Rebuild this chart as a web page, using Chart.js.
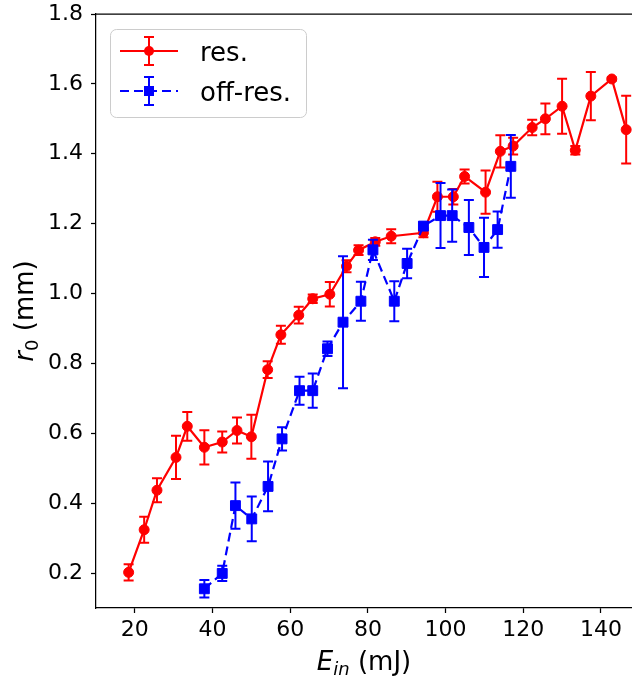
<!DOCTYPE html>
<html>
<head>
<meta charset="utf-8">
<script src="https://cdn.jsdelivr.net/npm/chart.js@4.4.1/dist/chart.umd.min.js"></script>
<style>
  html, body { margin: 0; padding: 0; background: #ffffff; }
  #wrap { width: 632px; height: 678px; }
</style>
</head>
<body>
<div id="wrap"><canvas id="c" width="632" height="678"></canvas></div>
<script>
// Resonant pumping: input energy (mJ), radius r0 (mm), error
const resEnergy = [18.4, 22.4, 25.7, 30.6, 33.5, 37.9, 42.5, 46.3, 50.0, 54.2, 57.6, 62.2, 65.8, 70.2, 74.5, 77.6, 81.9, 86.0, 94.3, 97.9, 102.0, 104.9, 110.3, 114.1, 117.4, 122.3, 125.7, 130.0, 133.4, 137.4, 142.8, 146.5];
const resRadius = [0.202, 0.324, 0.437, 0.531, 0.620, 0.560, 0.575, 0.608, 0.590, 0.782, 0.882, 0.938, 0.985, 0.998, 1.078, 1.124, 1.148, 1.164, 1.174, 1.277, 1.277, 1.335, 1.290, 1.407, 1.422, 1.475, 1.500, 1.536, 1.410, 1.565, 1.614, 1.469];
const resError  = [0.023, 0.037, 0.034, 0.062, 0.041, 0.049, 0.030, 0.037, 0.063, 0.024, 0.026, 0.024, 0.012, 0.035, 0.017, 0.014, 0.011, 0.020, 0.013, 0.043, 0.022, 0.020, 0.062, 0.046, 0.024, 0.022, 0.044, 0.079, 0.012, 0.069, 0.004, 0.097];

// Off-resonant pumping
const offEnergy = [37.9, 42.5, 45.9, 50.1, 54.3, 57.9, 62.4, 65.8, 69.6, 73.6, 78.2, 81.3, 86.8, 90.1, 94.3, 98.7, 101.7, 106.0, 109.9, 113.4, 116.8];
const offRadius = [0.155, 0.199, 0.393, 0.355, 0.448, 0.584, 0.722, 0.722, 0.842, 0.918, 0.978, 1.125, 0.978, 1.086, 1.193, 1.223, 1.223, 1.189, 1.132, 1.183, 1.364];
const offError  = [0.025, 0.022, 0.066, 0.064, 0.071, 0.033, 0.040, 0.049, 0.021, 0.189, 0.056, 0.029, 0.057, 0.042, 0.010, 0.093, 0.075, 0.079, 0.085, 0.052, 0.090];

const xTicks = [20, 40, 60, 80, 100, 120, 140];
const yTicks = [0.2, 0.4, 0.6, 0.8, 1.0, 1.2, 1.4, 1.6, 1.8];

const RED = '#ff0000';
const BLUE = '#0000ff';
const FONT = "'DejaVu Sans', sans-serif";
const CAP = 5;

function toPoints(xs, ys) { return xs.map((x, i) => ({ x: x, y: ys[i] })); }

// vertical error bars with caps, drawn under each series' own markers
const errorBars = {
  id: 'errorBars',
  beforeDatasetDraw(chart, args) {
    const ds = chart.data.datasets[args.index];
    if (!ds.errors) return;
    const xs = chart.scales.x, ys = chart.scales.y, ctx = chart.ctx;
    ctx.save();
    ctx.strokeStyle = ds.borderColor;
    ctx.lineWidth = 2;
    ctx.setLineDash([]);
    ds.data.forEach((p, i) => {
      const e = ds.errors[i];
      const px = xs.getPixelForValue(p.x);
      const top = ys.getPixelForValue(p.y + e);
      const bot = ys.getPixelForValue(p.y - e);
      ctx.beginPath();
      ctx.moveTo(px, top); ctx.lineTo(px, bot);
      ctx.moveTo(px - CAP, top); ctx.lineTo(px + CAP, top);
      ctx.moveTo(px - CAP, bot); ctx.lineTo(px + CAP, bot);
      ctx.stroke();
    });
    ctx.restore();
  }
};

// top spine, axis titles with italic symbols and subscripts, and legend box
const decorations = {
  id: 'decorations',
  afterDraw(chart) {
    const ctx = chart.ctx, area = chart.chartArea;
    ctx.save();

    ctx.strokeStyle = '#000';
    ctx.lineWidth = 1.25;
    ctx.beginPath();
    ctx.moveTo(area.left, area.top);
    ctx.lineTo(area.right, area.top);
    ctx.stroke();

    ctx.fillStyle = '#000';
    ctx.textBaseline = 'alphabetic';

    function drawRich(parts, cx, baseline) {
      let total = 0;
      parts.forEach(p => { ctx.font = p.font; p.w = ctx.measureText(p.text).width; total += p.w; });
      let x = cx - total / 2;
      parts.forEach(p => {
        ctx.font = p.font;
        ctx.textAlign = 'left';
        ctx.fillText(p.text, x, baseline + (p.dy || 0));
        x += p.w;
      });
    }

    const big = 26, small = Math.round(26 * 0.7);
    // x title: E_in (mJ)
    drawRich([
      { text: 'E', font: `italic ${big}px ${FONT}` },
      { text: 'in', font: `italic ${small}px ${FONT}`, dy: 5 },
      { text: ' (mJ)', font: `${big}px ${FONT}` }
    ], (area.left + area.right) / 2, 670);

    // y title: r_0 (mm), rotated
    ctx.save();
    ctx.translate(33, (area.top + area.bottom) / 2);
    ctx.rotate(-Math.PI / 2);
    drawRich([
      { text: 'r', font: `italic ${big}px ${FONT}` },
      { text: '0', font: `${small}px ${FONT}`, dy: 5 },
      { text: ' (mm)', font: `${big}px ${FONT}` }
    ], 0, 0);
    ctx.restore();

    // legend
    const bx = 110.5, by = 29.5, bw = 196, bh = 88, r = 6;
    ctx.beginPath();
    ctx.moveTo(bx + r, by);
    ctx.arcTo(bx + bw, by, bx + bw, by + bh, r);
    ctx.arcTo(bx + bw, by + bh, bx, by + bh, r);
    ctx.arcTo(bx, by + bh, bx, by, r);
    ctx.arcTo(bx, by, bx + bw, by, r);
    ctx.closePath();
    ctx.fillStyle = 'rgba(255,255,255,0.8)';
    ctx.fill();
    ctx.strokeStyle = '#cccccc';
    ctx.lineWidth = 1;
    ctx.stroke();

    const rows = [
      { color: RED, dash: [], cy: 51, label: 'res.', marker: 'circle' },
      { color: BLUE, dash: [9, 5], cy: 91, label: 'off-res.', marker: 'square' }
    ];
    rows.forEach(row => {
      ctx.strokeStyle = row.color;
      ctx.fillStyle = row.color;
      ctx.lineWidth = 2.2;
      ctx.setLineDash(row.dash);
      ctx.beginPath();
      ctx.moveTo(120, row.cy); ctx.lineTo(178, row.cy);
      ctx.stroke();
      ctx.setLineDash([]);
      ctx.lineWidth = 2;
      ctx.beginPath();
      ctx.moveTo(149, row.cy - 14); ctx.lineTo(149, row.cy + 14);
      ctx.moveTo(149 - CAP, row.cy - 14); ctx.lineTo(149 + CAP, row.cy - 14);
      ctx.moveTo(149 - CAP, row.cy + 14); ctx.lineTo(149 + CAP, row.cy + 14);
      ctx.stroke();
      ctx.beginPath();
      if (row.marker === 'circle') {
        ctx.arc(149, row.cy, 5, 0, Math.PI * 2);
      } else {
        ctx.rect(144, row.cy - 5, 10, 10);
      }
      ctx.fill();
      ctx.fillStyle = '#000';
      ctx.font = `26px ${FONT}`;
      ctx.textAlign = 'left';
      ctx.fillText(row.label, 200, row.cy + 10);
    });

    ctx.restore();
  }
};

const tickFont = { family: FONT, size: 22 };

new Chart(document.getElementById('c'), {
  type: 'scatter',
  data: {
    datasets: [
      {
        label: 'res.',
        data: toPoints(resEnergy, resRadius),
        errors: resError,
        showLine: true,
        borderColor: RED,
        backgroundColor: RED,
        borderWidth: 2.2,
        pointStyle: 'circle',
        pointRadius: 5,
        pointBorderWidth: 1,
        pointBackgroundColor: RED,
        pointBorderColor: RED,
        order: 1
      },
      {
        label: 'off-res.',
        data: toPoints(offEnergy, offRadius),
        errors: offError,
        showLine: true,
        borderColor: BLUE,
        backgroundColor: BLUE,
        borderWidth: 2.2,
        borderDash: [9, 5],
        pointStyle: 'rect',
        pointRadius: 7,
        pointBorderWidth: 1,
        pointBackgroundColor: BLUE,
        pointBorderColor: BLUE,
        order: 0
      }
    ]
  },
  options: {
    responsive: false,
    devicePixelRatio: 1,
    animation: false,
    layout: { autoPadding: false, padding: { top: 14, right: 0, bottom: 0, left: 0 } },
    plugins: {
      legend: { display: false },
      tooltip: { enabled: false }
    },
    scales: {
      x: {
        type: 'linear',
        min: 10,
        max: 148,
        grid: { drawOnChartArea: false, drawTicks: true, tickLength: 5, tickWidth: 1.25, tickColor: '#000' },
        border: { display: true, color: '#000', width: 1.25 },
        ticks: { font: tickFont, color: '#000', padding: 4, maxRotation: 0, autoSkip: false },
        afterBuildTicks: s => { s.ticks = xTicks.map(v => ({ value: v })); },
        afterFit: s => { s.height = 70; s.paddingLeft = 0; s.paddingRight = 0; }
      },
      y: {
        type: 'linear',
        min: 0.1,
        max: 1.8,
        grid: { drawOnChartArea: false, drawTicks: true, tickLength: 5, tickWidth: 1.25, tickColor: '#000' },
        border: { display: true, color: '#000', width: 1.25 },
        ticks: { font: tickFont, color: '#000', padding: 8, autoSkip: false, callback: v => Number(v).toFixed(1) },
        afterBuildTicks: s => { s.ticks = yTicks.map(v => ({ value: v })); },
        afterFit: s => { s.width = 96; s.paddingTop = 0; s.paddingBottom = 0; }
      }
    }
  },
  plugins: [errorBars, decorations]
});
</script>
</body>
</html>
